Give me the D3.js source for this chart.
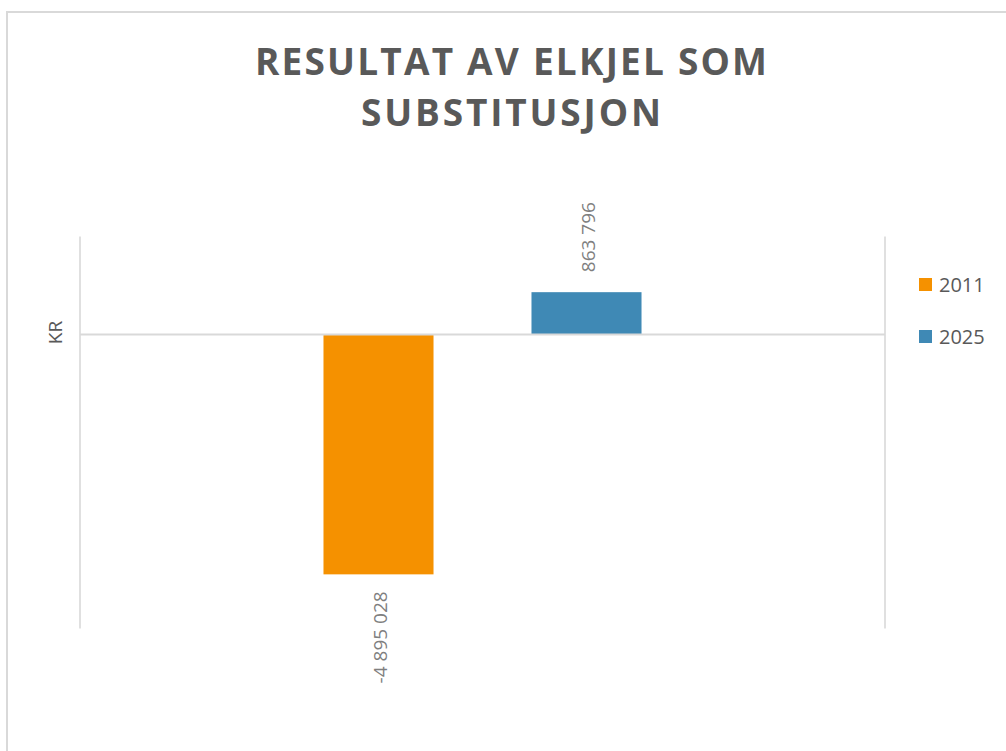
<!DOCTYPE html>
<html>
<head>
<meta charset="utf-8">
<script src="https://cdn.jsdelivr.net/npm/d3@7"></script>
<style>
  html, body { margin: 0; padding: 0; background: #ffffff; }
  svg { display: block; font-family: "Open Sans", "DejaVu Sans", sans-serif; }
</style>
</head>
<body>
<div id="chart"></div>
<script>
// ---- data ----
const titleLines = ["RESULTAT AV ELKJEL SOM", "SUBSTITUSJON"];
const categories = ["Resultat"];
const seriesNames = ["2011", "2025"];
const seriesValues = [-4895028, 863796];
const seriesColors = ["#f59100", "#3f89b5"];
const yDomain = [-6000000, 2000000];
const yAxisTitle = "KR";

// ---- layout ----
const W = 1006, H = 751;
const plot = { left: 80, right: 885, top: 236.5, bottom: 628.5 };
const grid = "#d9d9d9";
const fmt = v => {
  const s = d3.format(",")(Math.abs(v)).replace(/,/g, " ");
  return (v < 0 ? "-" : "") + s;
};

const svg = d3.select("#chart").append("svg")
  .attr("width", W).attr("height", H);

// outer chart frame
svg.append("rect")
  .attr("x", 7).attr("y", 12)
  .attr("width", W + 20).attr("height", H + 20)
  .attr("fill", "#fff").attr("stroke", grid).attr("stroke-width", 2);

// title
const titleWidths = [512, 300];
const titleBase = [75, 126];
titleLines.forEach((t, i) => {
  svg.append("text")
    .attr("x", 511).attr("y", titleBase[i])
    .attr("text-anchor", "middle")
    .attr("font-size", 37).attr("font-weight", 700)
    .attr("fill", "#595959")
    .attr("textLength", titleWidths[i])
    .attr("lengthAdjust", "spacing")
    .text(t);
});

// scales
const y = d3.scaleLinear().domain(yDomain).range([plot.bottom, plot.top]);
const x0 = d3.scaleBand().domain(categories).range([plot.left, plot.right]);
const x1 = d3.scaleBand().domain(seriesNames)
  .range([0, x0.bandwidth()])
  .paddingInner(0.471).paddingOuter(1.1706);

// plot area side lines
[plot.left, plot.right].forEach(px => {
  svg.append("line")
    .attr("x1", px).attr("x2", px)
    .attr("y1", y(yDomain[1])).attr("y2", y(yDomain[0]))
    .attr("stroke", grid).attr("stroke-width", 1.6);
});

// bars
const data = seriesNames.map((s, i) => ({ cat: categories[0], s, v: seriesValues[i], c: seriesColors[i] }));
svg.append("g").selectAll("rect").data(data).join("rect")
  .attr("x", d => x0(d.cat) + x1(d.s))
  .attr("width", x1.bandwidth())
  .attr("y", d => y(Math.max(0, d.v)))
  .attr("height", d => Math.abs(y(d.v) - y(0)))
  .attr("fill", d => d.c);

// zero line (category axis)
svg.append("line")
  .attr("x1", plot.left).attr("x2", plot.right)
  .attr("y1", y(0)).attr("y2", y(0))
  .attr("stroke", grid).attr("stroke-width", 2);

// data labels (rotated)
svg.append("g").selectAll("text").data(data).join("text")
  .attr("transform", d => {
    const cx = x0(d.cat) + x1(d.s) + x1.bandwidth() / 2 + 2;
    const cy = d.v >= 0 ? y(d.v) - 20 : y(d.v) + 17;
    return `translate(${cx},${cy}) rotate(-90)`;
  })
  .attr("text-anchor", d => d.v >= 0 ? "start" : "end")
  .attr("dy", "0.36em")
  .attr("font-size", 19)
  .attr("fill", "#7f7f7f")
  .text(d => fmt(d.v));

// y axis title
svg.append("text")
  .attr("transform", `translate(55,${y(0) - 2}) rotate(-90)`)
  .attr("text-anchor", "middle")
  .attr("dy", "0.36em")
  .attr("font-size", 19)
  .attr("fill", "#595959")
  .text(yAxisTitle);

// legend
const legendY = [278, 330];
const lg = svg.append("g").selectAll("g").data(seriesNames).join("g")
  .attr("transform", (d, i) => `translate(919,${legendY[i]})`);
lg.append("rect").attr("width", 13).attr("height", 13)
  .attr("fill", (d, i) => seriesColors[i]);
lg.append("text").attr("x", 20).attr("y", 14)
  .attr("font-size", 20).attr("fill", "#595959")
  .text(d => d);
</script>
</body>
</html>
